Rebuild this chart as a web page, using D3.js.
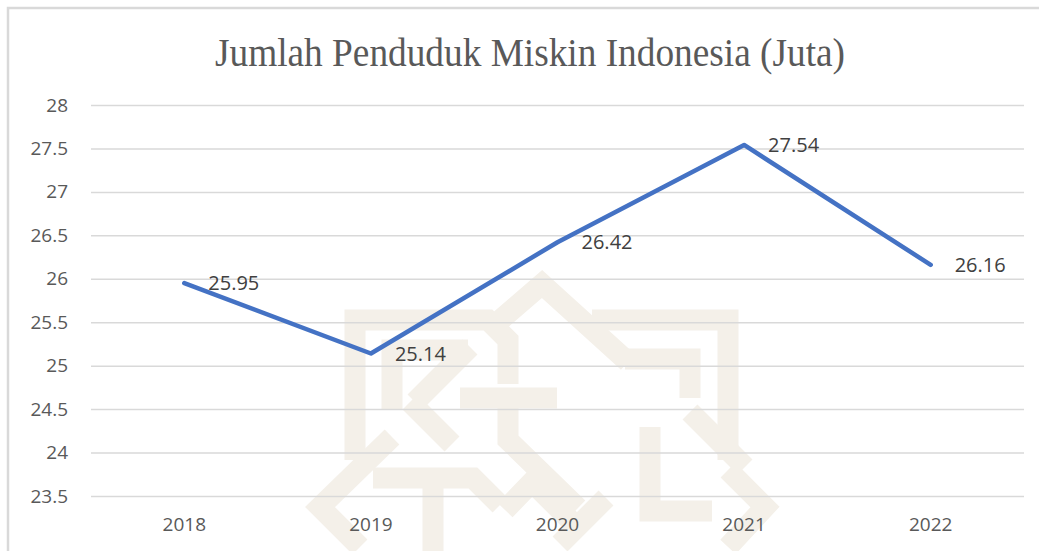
<!DOCTYPE html>
<html>
<head>
<meta charset="utf-8">
<script src="https://cdn.jsdelivr.net/npm/d3@7"></script>
<style>
  html, body { margin: 0; padding: 0; background: #fff; }
  svg { display: block; }
</style>
</head>
<body>
<div id="chart"></div>
<script>
// data
const years = ["2018", "2019", "2020", "2021", "2022"];
const poorMillions = [25.95, 25.14, 26.42, 27.54, 26.16];
const yTicks = [23.5, 24, 24.5, 25, 25.5, 26, 26.5, 27, 27.5, 28];
const chartTitle = "Jumlah Penduduk Miskin Indonesia (Juta)";

const width = 1039, height = 551;
const margin = { top: 105, right: 15, bottom: 55, left: 91 };

const svg = d3.select("#chart")
    .append("svg")
    .attr("width", width)
    .attr("height", height);

// chart frame (only top and left edges show)
svg.append("rect")
    .attr("x", 8).attr("y", 8)
    .attr("width", width + 20).attr("height", height + 20)
    .attr("fill", "#fff")
    .attr("stroke", "#d9d9d9")
    .attr("stroke-width", 2.5);

// faint watermark behind the plot (document background logo), rough sketch
const wm = svg.append("g")
    .attr("fill", "none")
    .attr("stroke", "#f4f0e9")
    .attr("stroke-width", 21)
    .attr("stroke-linejoin", "miter");
const wmPaths = [
    "M355,460 V320 H488 L508,340 V384",
    "M460,398 H557",
    "M592,320 H728 V460",
    "M498,322 L542,284 L628,362",
    "M392,410 V350 H468",
    "M625,359 H690 V398",
    "M508,400 V440 L578,508",
    "M415,402 L470,347",
    "M410,402 L452,444",
    "M650,427 V511 H712",
    "M392,437 L320,507 L360,547",
    "M728,470 L765,507 L728,547",
    "M373,478 H473 L500,505",
    "M433,478 V551",
    "M505,510 L532,482 L580,530",
    "M606,498 L560,544",
    "M690,412 L745,467"
];
wm.selectAll("path")
    .data(wmPaths)
    .join("path")
    .attr("d", d => d);

// scales
const x = d3.scaleBand()
    .domain(years)
    .range([margin.left, width - margin.right]);

const y = d3.scaleLinear()
    .domain([23.5, 28])
    .range([height - margin.bottom, margin.top]);

// gridlines + y labels
const yAxis = svg.append("g")
    .attr("transform", `translate(${margin.left},0)`)
    .call(d3.axisLeft(y)
        .tickValues(yTicks)
        .tickSize(-(width - margin.left - margin.right))
        .tickPadding(23)
        .tickFormat(d => String(d)));
yAxis.select(".domain").remove();
yAxis.selectAll(".tick line")
    .attr("stroke", "#d9d9d9")
    .attr("stroke-width", 1.5);
yAxis.selectAll(".tick text")
    .attr("fill", "#595959")
    .style("font-family", "'Open Sans', 'Noto Sans', sans-serif")
    .style("font-size", "19px");

// x labels
const xAxis = svg.append("g")
    .attr("transform", `translate(0,${height - margin.bottom})`)
    .call(d3.axisBottom(x).tickSize(0).tickPadding(22));
xAxis.select(".domain").remove();
xAxis.selectAll(".tick text")
    .attr("fill", "#595959")
    .style("font-family", "'Open Sans', 'Noto Sans', sans-serif")
    .style("font-size", "19px");

// the line
const points = years.map((yr, i) => [yr, poorMillions[i]]);
const line = d3.line()
    .x(d => x(d[0]) + x.bandwidth() / 2)
    .y(d => y(d[1]));

svg.append("path")
    .datum(points)
    .attr("d", line)
    .attr("fill", "none")
    .attr("stroke", "#4472c4")
    .attr("stroke-width", 4.5)
    .attr("stroke-linejoin", "round")
    .attr("stroke-linecap", "round");

// value labels to the right of each point
svg.selectAll(".val")
    .data(points)
    .join("text")
    .attr("class", "val")
    .attr("x", d => x(d[0]) + x.bandwidth() / 2 + 24)
    .attr("y", d => y(d[1]))
    .attr("dy", "0.36em")
    .attr("fill", "#404040")
    .style("font-family", "'Open Sans', 'Noto Sans', sans-serif")
    .style("font-size", "20px")
    .text(d => d[1].toFixed(2));

// title
svg.append("text")
    .attr("x", 530)
    .attr("y", 66)
    .attr("text-anchor", "middle")
    .attr("fill", "#595959")
    .attr("textLength", 630)
    .attr("lengthAdjust", "spacingAndGlyphs")
    .style("font-family", "'Liberation Serif', 'Times New Roman', serif")
    .style("font-size", "40px")
    .text(chartTitle);
</script>
</body>
</html>
